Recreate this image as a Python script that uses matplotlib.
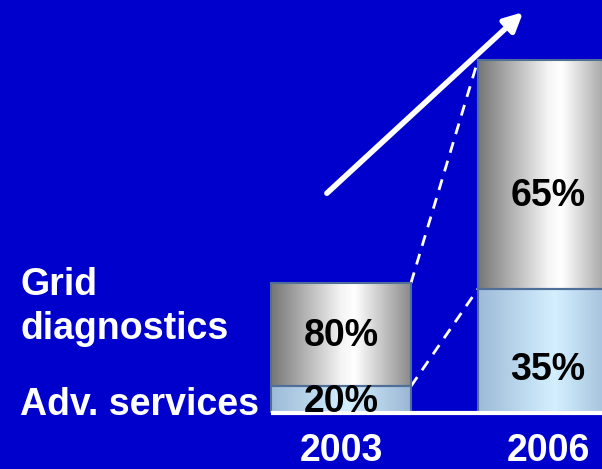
import numpy as np
import matplotlib
matplotlib.use("Agg")
import matplotlib.pyplot as plt
from matplotlib.colors import LinearSegmentedColormap

years = ["2003", "2006"]
totals = [100, 273]            # relative volume (2003 = 100)
adv_share = [20, 35]           # % Adv. services
grid_share = [80, 65]          # % Grid diagnostics
series_labels = ["Adv. services", "Grid\ndiagnostics"]

adv_vals = [t * a / 100 for t, a in zip(totals, adv_share)]
grid_vals = [t * g / 100 for t, g in zip(totals, grid_share)]

BG = "#0000cc"
plt.rcParams['font.family'] = ['Liberation Sans', 'DejaVu Sans']
FS = 27

fig = plt.figure(figsize=(6.02, 4.69), dpi=100, facecolor=BG)
ax = fig.add_axes([0, 0, 1, 1])
ax.set_facecolor(BG)
ax.axis('off')

width = 0.676
x = np.arange(len(years))
XLIM = (-1.647, 1.261)
YLIM = (-44.2, 319.6)

def ypx(py):
    """figure pixel row (from top) -> axes fraction"""
    return 1 - py / 469

gray_cmap = LinearSegmentedColormap.from_list(
    "g", [(0, "#767676"), (0.5, "#f4f4f4"), (0.6, "#ffffff"), (1.0, "#8a8a8a")])
blue_cmap = LinearSegmentedColormap.from_list(
    "b", [(0, "#9dbad8"), (0.55, "#d4f0ff"), (1.0, "#9ab6d4")])
grad = np.linspace(0, 1, 256).reshape(1, -1)

def gradient_bars(bars, cmap):
    for b in bars:
        x0, y0 = b.get_x(), b.get_y()
        w, h = b.get_width(), b.get_height()
        im = ax.imshow(grad, cmap=cmap, aspect='auto',
                       extent=(x0, x0 + w, y0, y0 + h), zorder=2)
        im.set_clip_path(b)

b_adv = ax.bar(x, adv_vals, width, color='none', edgecolor="#4f6f98", lw=1.5, zorder=3)
b_grid = ax.bar(x, grid_vals, width, bottom=adv_vals, color='none',
                edgecolor="#4f6f98", lw=1.5, zorder=3)
gradient_bars(b_adv, blue_cmap)
gradient_bars(b_grid, gray_cmap)
ax.set_xlim(*XLIM)
ax.set_ylim(*YLIM)

# segment labels (baselines in figure pixel rows)
adv_base = [412, 380]
grid_base = [346, 206]
for i in range(len(years)):
    ax.text(x[i], ypx(adv_base[i]), f"{adv_share[i]}%", transform=ax.get_xaxis_transform(),
            ha='center', va='baseline', fontsize=FS, fontweight='bold', color='black', zorder=6)
    ax.text(x[i], ypx(grid_base[i]), f"{grid_share[i]}%", transform=ax.get_xaxis_transform(),
            ha='center', va='baseline', fontsize=FS, fontweight='bold', color='black', zorder=6)
    ax.text(x[i], ypx(461), years[i], transform=ax.get_xaxis_transform(),
            ha='center', va='baseline', fontsize=FS, fontweight='bold', color='white')

# baseline
ax.plot([x[0] - width / 2, 1.3], [-1, -1], color='white', lw=3, zorder=5,
        solid_capstyle='butt', clip_on=False)

# dashed connectors
ax.plot([x[0] + width / 2, x[1] - width / 2], [totals[0], totals[1]],
        color='white', lw=2, ls=(0, (4, 3)), zorder=1)
ax.plot([x[0] + width / 2, x[1] - width / 2], [adv_vals[0], adv_vals[1]],
        color='white', lw=2, ls=(0, (4, 3)), zorder=1)

# growth arrow
ax.annotate("", xy=(0.869, 0.974), xytext=(0.543, 0.588), xycoords='axes fraction',
            arrowprops=dict(arrowstyle='-|>,head_length=1.1,head_width=0.55',
                            color='white', lw=4, shrinkA=0, shrinkB=0))

# series labels
grid_lines = series_labels[1].split("\n")
for line, py in zip(grid_lines, [295, 339]):
    ax.text(20 / 602, ypx(py), line, transform=ax.transAxes,
            ha='left', va='baseline', fontsize=FS, fontweight='bold', color='white')
ax.text(20 / 602, ypx(415), series_labels[0], transform=ax.transAxes,
        ha='left', va='baseline', fontsize=FS, fontweight='bold', color='white')

fig.savefig("out.png", dpi=100, facecolor=BG)
